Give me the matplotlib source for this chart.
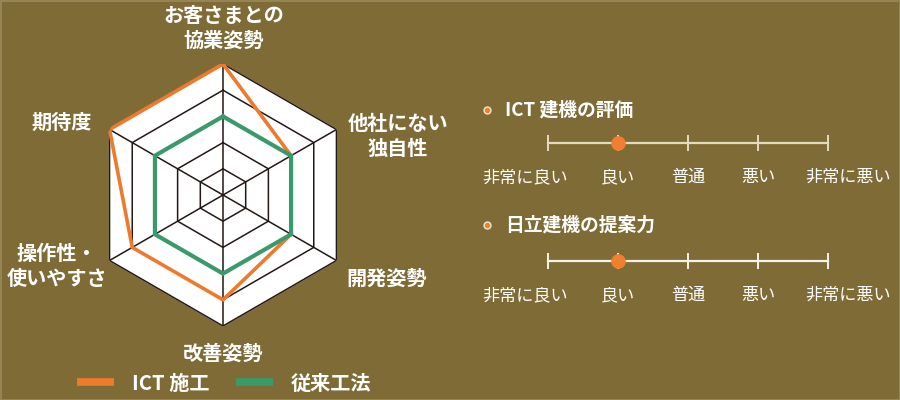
import numpy as np
import matplotlib
matplotlib.use("Agg")
import matplotlib.pyplot as plt
from matplotlib.lines import Line2D

plt.rcParams['font.family'] = ['Noto Sans CJK JP', 'DejaVu Sans']

# radar data (clockwise from top)
axis_labels = ["お客さまとの\n協業姿勢", "他社にない\n独自性", "開発姿勢",
               "改善姿勢", "操作性・\n使いやすさ", "期待度"]
ict_values = [5, 3, 3, 4, 4, 5]
conventional_values = [3, 3, 3, 3, 3, 3]
levels = [1, 2, 3, 4, 5]
series_names = ["ICT 施工", "従来工法"]

# rating scales on the right
scale_labels = ["非常に良い", "良い", "普通", "悪い", "非常に悪い"]
rating_titles = ["ICT 建機の評価", "日立建機の提案力"]
rating_values = [1, 1]

BG = "#7f6b36"
ORANGE = "#ee7a2e"
GREEN = "#3b9a6b"
W, H = 900, 400


def fx(px):
    return px / W


def fy(py):
    return 1 - py / H


fig = plt.figure(figsize=(9, 4), dpi=100, facecolor=BG)

# ---- radar ----
cx, cy, R = 223, 195, 131
ax = fig.add_axes([fx(cx - R), fy(cy + R), 2 * R / W, 2 * R / H], projection='polar')
ax.set_theta_offset(np.pi / 2)
ax.set_theta_direction(-1)
ax.set_ylim(0, max(levels))
ax.patch.set_alpha(0)
ax.grid(False)
ax.spines['polar'].set_visible(False)
ax.set_xticks([])
ax.set_yticks([])

n = len(axis_labels)
angles = np.linspace(0, 2 * np.pi, n, endpoint=False)
closed = np.append(angles, angles[0])

ax.fill(closed, [max(levels)] * (n + 1), color='white', zorder=1)
for lv in levels:
    ax.plot(closed, [lv] * (n + 1), color='#231815', lw=1.1, zorder=2)
for a in angles:
    ax.plot([a, a], [0, max(levels)], color='#231815', lw=1.1, zorder=2)

ax.plot(closed, ict_values + ict_values[:1], color=ORANGE, lw=2.6, zorder=3,
        solid_joinstyle='miter')
ax.plot(closed, conventional_values + conventional_values[:1], color=GREEN, lw=3.0,
        zorder=4, solid_joinstyle='miter')

label_pos = [(224, 28), (398, 136), (387, 278), (223, 353), (57, 266), (62, 122)]
for lab, (px, py) in zip(axis_labels, label_pos):
    fig.text(fx(px), fy(py), lab, color='white', fontsize=14.5, fontweight='bold',
             ha='center', va='center', multialignment='center', linespacing=1.2)

handles = [Line2D([], [], color=ORANGE, lw=5.5, solid_capstyle='butt'),
           Line2D([], [], color=GREEN, lw=5.5, solid_capstyle='butt')]
leg = fig.legend(handles, series_names, loc='center left',
                 bbox_to_anchor=(fx(77), fy(383)), ncol=2, frameon=False,
                 handlelength=1.86, handletextpad=0.88, columnspacing=1.29,
                 borderpad=0, borderaxespad=0,
                 prop={'family': ['Noto Sans CJK JP', 'DejaVu Sans'],
                       'weight': 'bold', 'size': 14.5})
for t in leg.get_texts():
    t.set_color('white')

# ---- rating scales ----
blocks = [  # top px, title row, line row, label row (pixels from block top)
    (90, 20, 53, 87),
    (200, 25, 61, 95),
]
line_colors = ["#e4dcc2", "#f6f3ea"]
x0, x1 = 548, 828
for (top, ty, ly, lbly), title, val, lc in zip(blocks, rating_titles, rating_values, line_colors):
    sax = fig.add_axes([fx(x0), fy(top + 110), (x1 - x0) / W, 110 / H])
    sax.set_xlim(0, len(scale_labels) - 1)
    sax.set_ylim(110, 0)
    sax.axis('off')
    pos = np.arange(len(scale_labels))
    sax.plot([pos[0], pos[-1]], [ly, ly], color=lc, lw=1.6, clip_on=False)
    sax.vlines(pos, ly - 8, ly + 8, color=lc, lw=1.4, clip_on=False)
    sax.plot([val], [ly], 'o', color='#f08030', ms=9.5, clip_on=False, zorder=5)
    lpos = [pos[0] - 0.33, pos[1], pos[2], pos[3], pos[4] + 0.29]
    for lab, p in zip(scale_labels, lpos):
        sax.text(p, lbly, lab, color='white', fontsize=12.3, ha='center', va='center')
    sax.plot([-0.87], [ty], 'o', color='#f08030', ms=5, mec='#f3e6d0', mew=1,
             clip_on=False)
    sax.text(-0.61, ty, title, color='white', fontsize=13.5, fontweight='bold',
             ha='left', va='center')

fig.patch.set_edgecolor('#958555')
fig.patch.set_linewidth(2)

fig.savefig('out.png', dpi=100, facecolor=BG, edgecolor=fig.get_edgecolor())
